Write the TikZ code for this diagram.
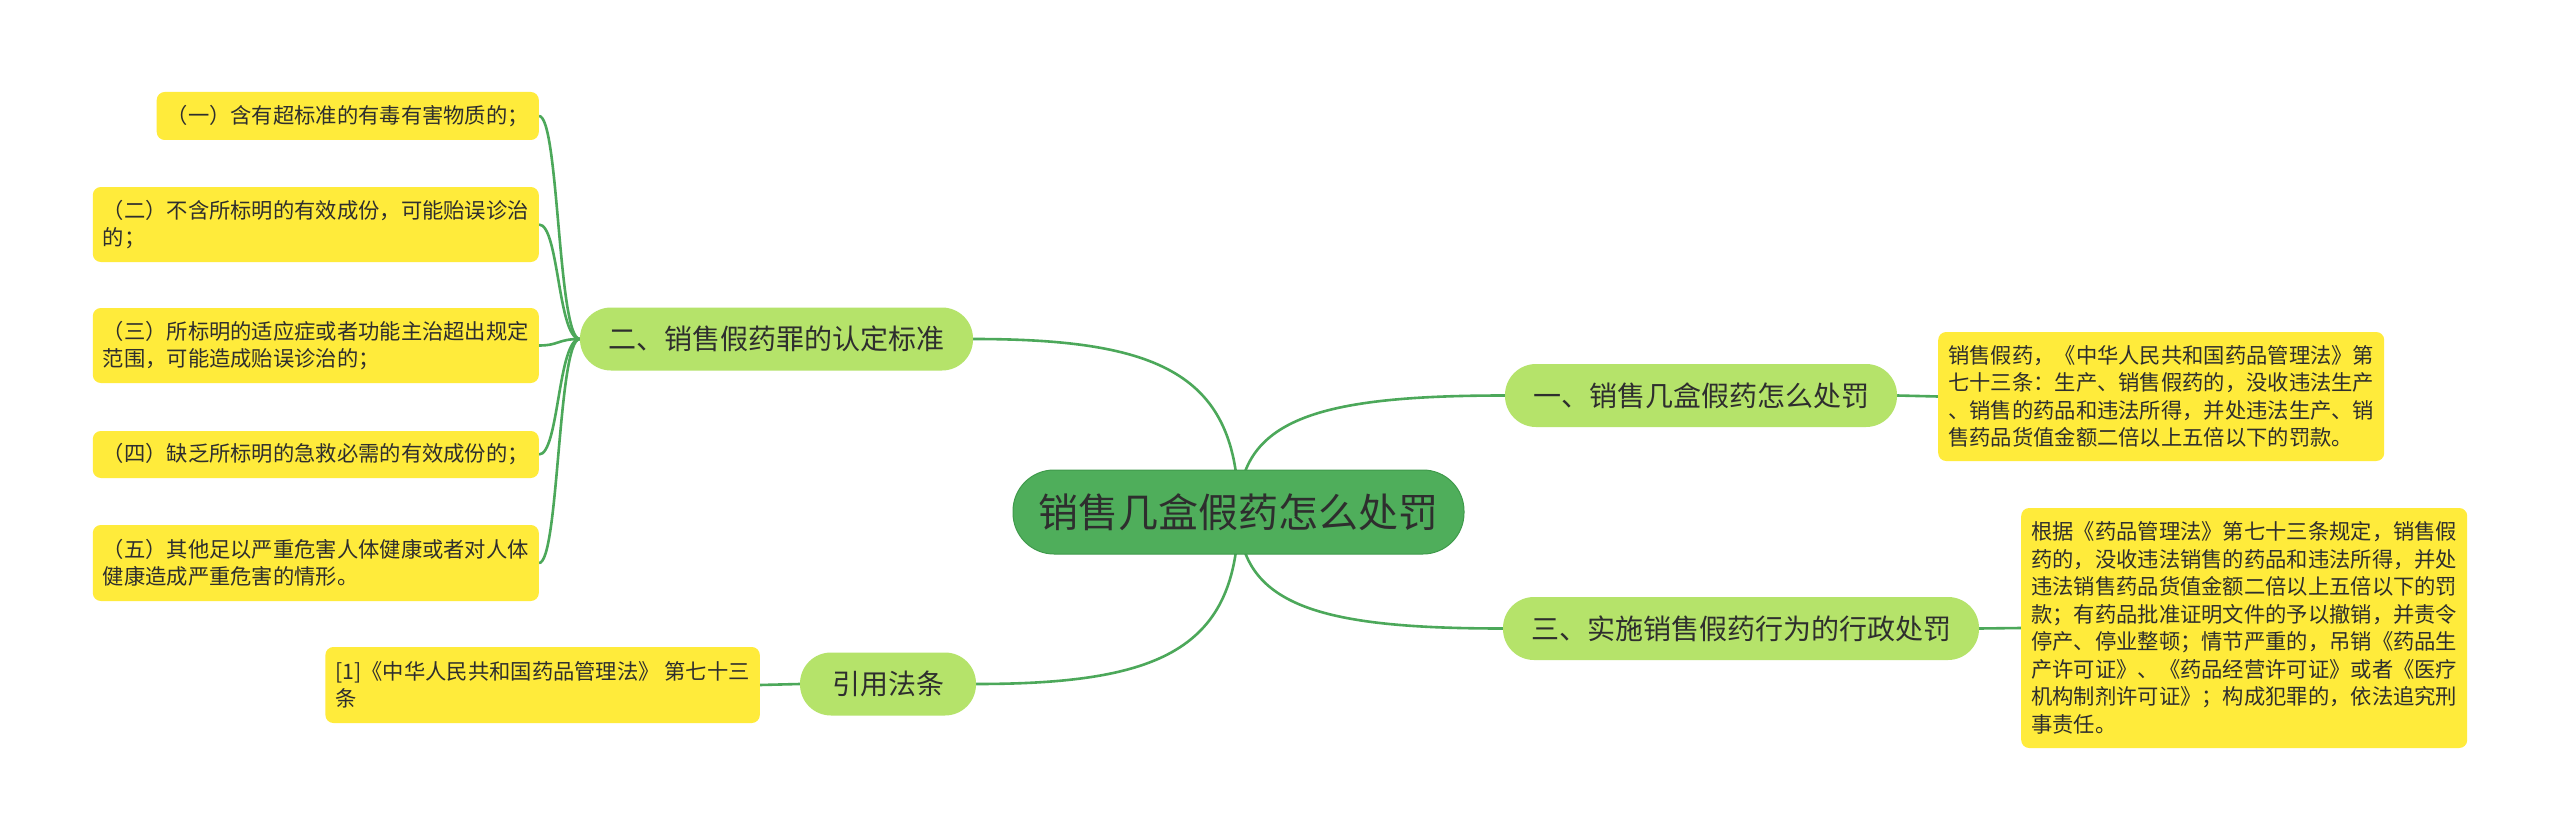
\documentclass[tikz,border=0pt]{standalone}
\usepackage{fontspec}
\setmainfont{Noto Sans CJK SC}
\usetikzlibrary{calc,backgrounds}
\definecolor{rootfill}{HTML}{4FAE5B}
\definecolor{rootline}{HTML}{3F9A4B}
\definecolor{mainfill}{HTML}{B5E36A}
\definecolor{leaffill}{HTML}{FFEB3B}
\definecolor{edgecol}{HTML}{4CA85A}
\definecolor{ink}{HTML}{2E2E2E}
\tikzset{
  rootnode/.style={fill=rootfill, draw=rootline, line width=1pt, rounded corners=41pt,
    minimum width=451pt, minimum height=84pt, inner sep=0pt, text=ink,
    font={\fontsize{40pt}{48pt}\selectfont}},
  mainnode/.style={fill=mainfill, rounded corners=31pt, minimum height=63pt,
    inner xsep=28pt, inner ysep=0pt, text=ink, font={\fontsize{28pt}{34pt}\selectfont}},
  leafnode/.style={fill=leaffill, rounded corners=8pt, inner xsep=10pt, inner ysep=2pt,
    align=left, text=ink, font={\fontsize{21.3pt}{27.5pt}\selectfont}},
  link/.style={draw=edgecol, line width=2.6pt},
}
\begin{document}
\begin{tikzpicture}[x=1pt,y=-1pt]
\useasboundingbox (0,0) rectangle (2560,840);
% nodes
\node[rootnode] (root) at (1238.5,512) {销售几盒假药怎么处罚};
\node[mainnode, minimum width=393pt] (n2) at (776.5,339) {二、销售假药罪的认定标准};
\node[mainnode, minimum width=392pt] (n1) at (1701,395.5) {一、销售几盒假药怎么处罚};
\node[mainnode, minimum width=472pt] (n3) at (1741,628.5) {三、实施销售假药行为的行政处罚};
\node[mainnode, minimum width=176pt, inner xsep=0pt] (n4) at (888,684) {引用法条};
% left leaves
\node[leafnode, anchor=east, minimum height=48pt] (a1) at (539,116) {（一）含有超标准的有毒有害物质的；};
\node[leafnode, anchor=east, minimum height=75pt] (a2) at (539,224.5) {（二）不含所标明的有效成份，可能贻误诊治\\的；};
\node[leafnode, anchor=east, minimum height=75pt] (a3) at (539,345.5) {（三）所标明的适应症或者功能主治超出规定\\范围，可能造成贻误诊治的；};
\node[leafnode, anchor=east, minimum height=47pt] (a4) at (539,454.5) {（四）缺乏所标明的急救必需的有效成份的；};
\node[leafnode, anchor=east, minimum height=76pt] (a5) at (539,563) {（五）其他足以严重危害人体健康或者对人体\\健康造成严重危害的情形。};
% right leaves
\node[leafnode, anchor=west, minimum height=129pt] (b1) at (1938,396.5) {销售假药，《中华人民共和国药品管理法》第\\七十三条：生产、销售假药的，没收违法生产\\、销售的药品和违法所得，并处违法生产、销\\售药品货值金额二倍以上五倍以下的罚款。};
\node[leafnode, anchor=west, minimum height=240pt] (b3) at (2021,628) {根据《药品管理法》第七十三条规定，销售假\\药的，没收违法销售的药品和违法所得，并处\\违法销售药品货值金额二倍以上五倍以下的罚\\款；有药品批准证明文件的予以撤销，并责令\\停产、停业整顿；情节严重的，吊销《药品生\\产许可证》、《药品经营许可证》或者《医疗\\机构制剂许可证》；构成犯罪的，依法追究刑\\事责任。};
% citation leaf
\node[leafnode, anchor=east, minimum height=76pt] (c1) at (760,685) {[1]《中华人民共和国药品管理法》 第七十三\\条};
% connectors
\begin{pgfonlayer}{background}
\fill[white] (0,0) rectangle (2560,840);
\foreach \kid/\side in {n2/east, n1/west, n3/west, n4/east}
  \draw[link] (root.center)
    .. controls ($(root.center)!0.8!(root.center |- \kid.\side)$)
           and ($(root.center |- \kid.\side)!0.3!(\kid.\side)$)
    .. (\kid.\side);
\foreach \leaf in {a1,a2,a3,a4,a5}
  \draw[link] (n2.west) .. controls +(-22,0) and +(20,0) .. (\leaf.east);
\draw[link] (n1.east) -- (b1.west);
\draw[link] (n3.east) -- (b3.west);
\draw[link] (n4.west) -- (c1.east);
\end{pgfonlayer}
\end{tikzpicture}
\end{document}
